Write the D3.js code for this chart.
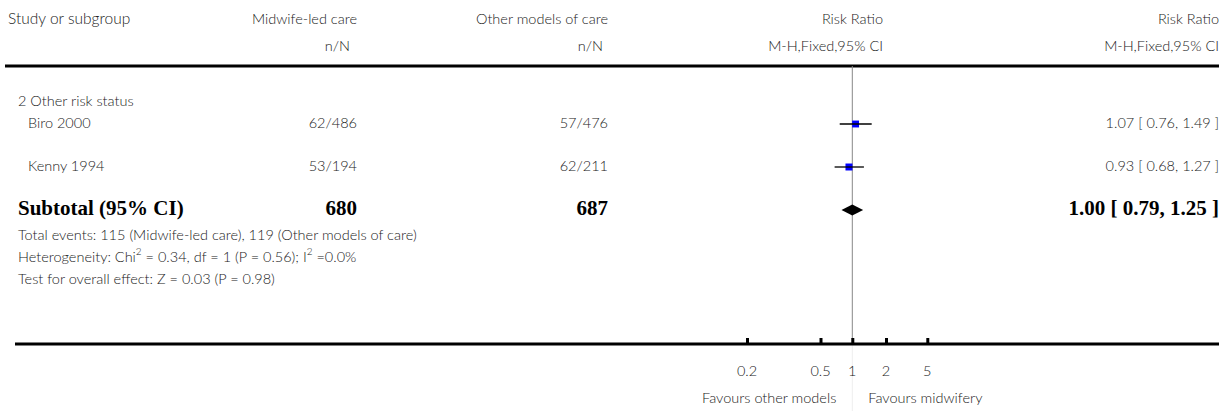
<!DOCTYPE html>
<html><head><meta charset="utf-8">
<script src="https://cdn.jsdelivr.net/npm/d3@7"></script>
<style>
html,body{margin:0;padding:0;background:#fff;}
svg text{font-family:"Lato","Open Sans",sans-serif;font-weight:300;fill:#222;}
.b{font-family:"Liberation Serif","Times New Roman",serif !important;font-weight:bold !important;fill:#000 !important;}
</style></head>
<body>
<svg id="c" width="1229" height="411"></svg>
<script>
// ---- data ----
const studies = ["Biro 2000", "Kenny 1994"];
const midwifeN = ["62/486", "53/194"];
const otherN = ["57/476", "62/211"];
const rr = [1.07, 0.93];
const lo = [0.76, 0.68];
const hi = [1.49, 1.27];
const weight = [49.3, 50.7];
const subtotal = {label: "Subtotal (95% CI)", n1: "680", n2: "687", rr: 1.00, lo: 0.79, hi: 1.25};
const tickValues = [0.2, 0.5, 1, 2, 5];
const tickLabels = ["0.2", "0.5", "1", "2", "5"];

const svg = d3.select("#c");
const W = 1229;

// x scale (piecewise log as drawn in the original)
const x = d3.scaleLog().domain(tickValues).range([747, 820.5, 852.3, 886, 927.3]);

const fs = 14.5;
const colMid = 357, colOther = 608, colRR = 883, colRight = 1219;

function txt(t, xx, yy, anchor, cls, size) {
  const e = svg.append("text").attr("x", xx).attr("y", yy).attr("text-anchor", anchor || "start")
    .attr("font-size", size || fs).attr("dominant-baseline", "middle").text(t);
  if (cls) e.attr("class", cls);
  return e;
}

// header
txt("Study or subgroup", 8, 20).attr("font-size", 15.5);
txt("Midwife-led care", colMid, 20, "end");
txt("n/N", colMid - 7, 47, "end");
txt("Other models of care", colOther, 20, "end");
txt("n/N", colOther - 5, 47, "end");
txt("Risk Ratio", colRR, 20, "end");
txt("M-H,Fixed,95% CI", colRR, 47, "end");
txt("Risk Ratio", colRight, 20, "end");
txt("M-H,Fixed,95% CI", colRight, 47, "end");

svg.append("line").attr("x1", 5).attr("x2", W - 10).attr("y1", 66).attr("y2", 66)
  .attr("stroke", "#000").attr("stroke-width", 3);

// vertical line of no effect
const axisY = 344;
svg.append("line").attr("x1", x(1)).attr("x2", x(1)).attr("y1", axisY).attr("y2", 411)
  .attr("stroke", "#eee").attr("stroke-width", 1);
svg.append("line").attr("x1", x(1)).attr("x2", x(1)).attr("y1", 66).attr("y2", axisY)
  .attr("stroke", "#888").attr("stroke-width", 1);

txt("2 Other risk status", 18, 102);

const rowY = [124, 167];
const sz = d3.scaleSqrt().domain([0, 100]).range([0, 9.8]);
studies.forEach((s, i) => {
  const y = rowY[i];
  txt(s, 28, y);
  txt(midwifeN[i], colMid, y, "end");
  txt(otherN[i], colOther, y, "end");
  txt(rr[i].toFixed(2) + " [ " + lo[i].toFixed(2) + ", " + hi[i].toFixed(2) + " ]", colRight, y, "end");
  const s2 = sz(weight[i]);
  svg.append("rect").attr("x", x(rr[i]) - s2 / 2).attr("y", y - s2 / 2).attr("width", s2).attr("height", s2)
    .attr("fill", "#0000ff");
  svg.append("line").attr("x1", x(lo[i])).attr("x2", x(hi[i])).attr("y1", y).attr("y2", y)
    .attr("stroke", "#000").attr("stroke-width", 1.3);
});

// subtotal
const sy = 210;
const bs = 21;
txt(subtotal.label, 18, sy, "start", "b", bs);
txt(subtotal.n1, colMid, sy, "end", "b", bs);
txt(subtotal.n2, colOther, sy, "end", "b", bs);
txt(subtotal.rr.toFixed(2) + " [ " + subtotal.lo.toFixed(2) + ", " + subtotal.hi.toFixed(2) + " ]", colRight, sy, "end", "b", bs);
const dh = 5.5;
svg.append("path").attr("d",
  `M${x(subtotal.lo)},${sy} L${x(subtotal.rr)},${sy - dh} L${x(subtotal.hi)},${sy} L${x(subtotal.rr)},${sy + dh} Z`)
  .attr("fill", "#000");

txt("Total events: 115 (Midwife-led care), 119 (Other models of care)", 18, 236);
const het = txt("", 18, 258);
het.append("tspan").text("Heterogeneity: Chi");
het.append("tspan").attr("font-size", 10).attr("dy", -5).text("2");
het.append("tspan").attr("dy", 5).text(" = 0.34, df = 1 (P = 0.56); I");
het.append("tspan").attr("font-size", 10).attr("dy", -5).text("2");
het.append("tspan").attr("dy", 5).text(" =0.0%");
txt("Test for overall effect: Z = 0.03 (P = 0.98)", 18, 280);

// axis
svg.append("line").attr("x1", 15).attr("x2", W - 10).attr("y1", axisY).attr("y2", axisY)
  .attr("stroke", "#000").attr("stroke-width", 3);
const ax = d3.axisTop(x).tickValues(tickValues).tickSize(6).tickFormat("");
const g = svg.append("g").attr("transform", `translate(0,${axisY})`).call(ax);
g.select(".domain").remove();
g.selectAll(".tick line").attr("stroke", "#000").attr("stroke-width", 3);
tickValues.forEach((v, i) => txt(tickLabels[i], x(v), 372, "middle"));

txt("Favours other models", x(1) - 16, 399, "end");
txt("Favours midwifery", x(1) + 16, 399, "start");
</script>
</body></html>
